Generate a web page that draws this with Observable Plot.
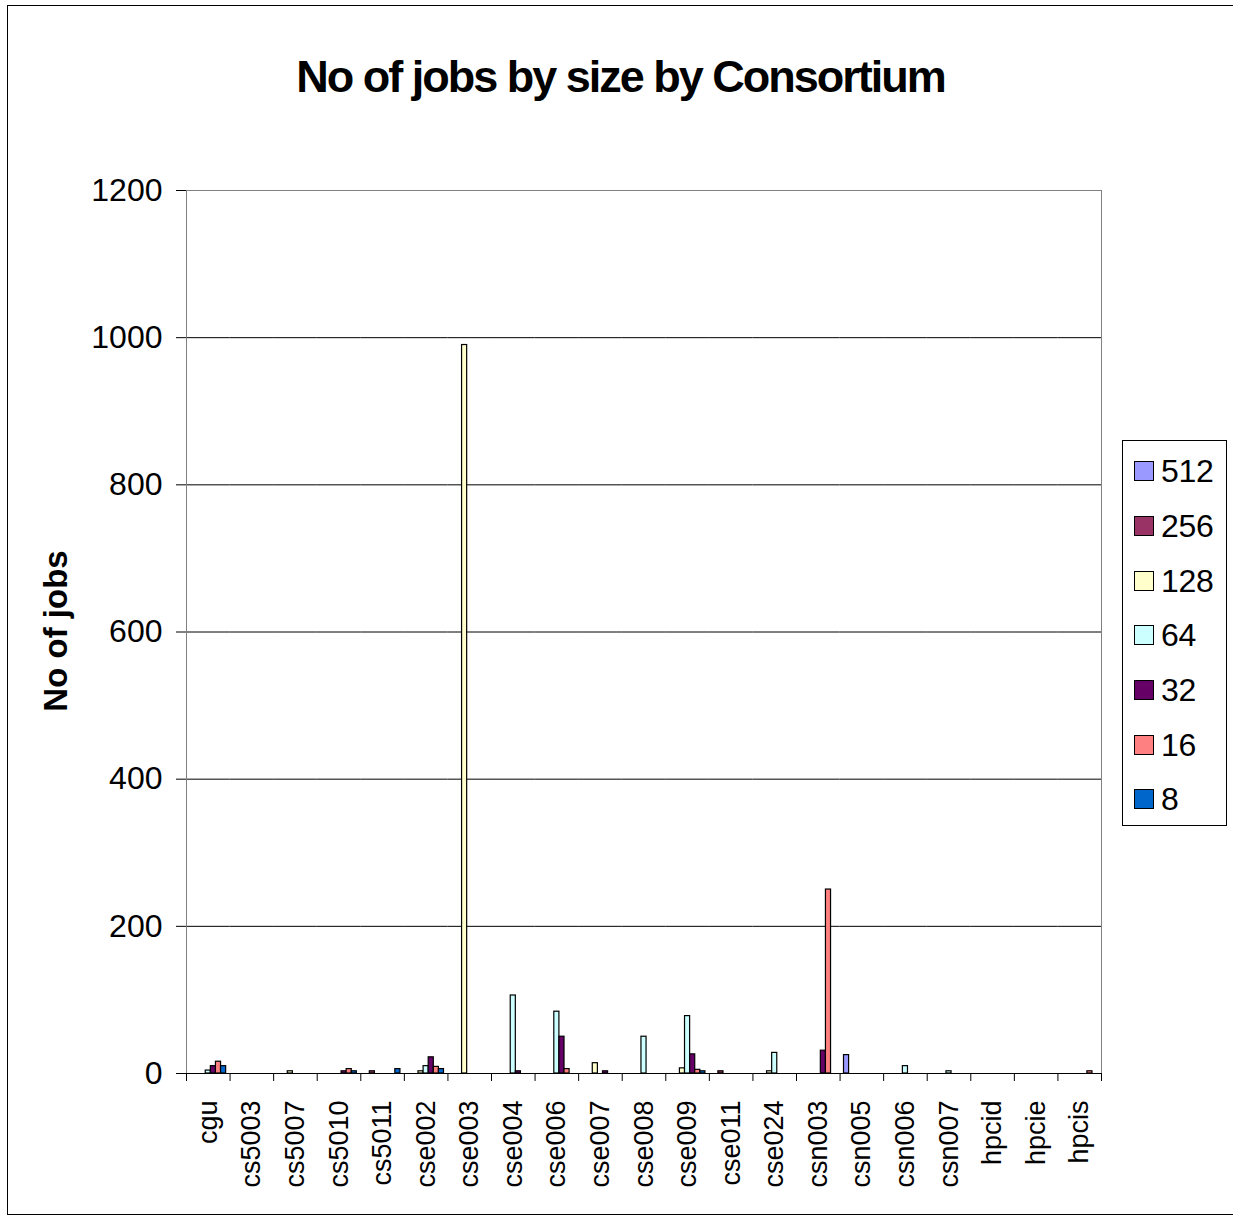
<!DOCTYPE html>
<html>
<head>
<meta charset="utf-8">
<script src="https://cdn.jsdelivr.net/npm/d3@7"></script>
<script src="https://cdn.jsdelivr.net/npm/@observablehq/plot@0.6"></script>
<style>
  html, body { margin: 0; padding: 0; background: #fff; }
  body { width: 1233px; height: 1217px; position: relative; overflow: hidden;
         font-family: "Liberation Sans", Arial, sans-serif; }
  #border { position: absolute; left: 7px; top: 5px; width: 1230px; height: 1210px;
            border: 1px solid #000; box-sizing: border-box; }
  #title { position: absolute; left: 0; width: 1241px; top: 54px; text-align: center;
           font-size: 45px; line-height: 45px; font-weight: bold; letter-spacing: -2px; color: #000; }
  #ylabel { position: absolute; left: 55px; top: 631px; transform: translate(-50%, -50%) rotate(-90deg);
            font-size: 33px; line-height: 33px; font-weight: bold; white-space: nowrap; color: #000; }
  #chart { position: absolute; left: 0; top: 150px; }
  #legend { position: absolute; left: 1122px; top: 440px; width: 105px; height: 386px;
            border: 1px solid #000; box-sizing: border-box; background: #fff; }
  .lg-row { position: absolute; left: 11px; height: 30px; display: flex; align-items: center; }
  .lg-sw { width: 20px; height: 20px; border: 1px solid #000; box-sizing: border-box; margin-right: 7px; }
  .lg-tx { font-size: 32px; line-height: 30px; color: #000; letter-spacing: -0.3px; }
</style>
</head>
<body>
<div id="border"></div>
<div id="title">No of jobs by size by Consortium</div>
<div id="ylabel">No of jobs</div>
<div id="chart"></div>
<div id="legend"></div>
<script>
// ---- data ----
const categories = ["cgu","cs5003","cs5007","cs5010","cs5011","cse002","cse003","cse004","cse006","cse007","cse008","cse009","cse011","cse024","csn003","csn005","csn006","csn007","hpcid","hpcie","hpcis"];
const sizes = ["512","256","128","64","32","16","8"];
const colors = ["#9999FF","#993366","#FFFFCC","#CCFFFF","#660066","#FF8080","#0066CC"];
//                 cgu cs5003 cs5007 cs5010 cs5011 cse002 cse003 cse004 cse006 cse007 cse008 cse009 cse011 cse024 csn003 csn005 csn006 csn007 hpcid hpcie hpcis
const s512 =      [0,  0,     0,     0,     0,     0,     0,     0,     0,     0,     0,     0,     0,     0,     0,     25,    0,     0,     0,    0,    0];
const s256 =      [0,  0,     0,     0,     3,     0,     0,     0,     0,     0,     0,     0,     3,     0,     0,     0,     0,     0,     0,    0,    0];
const s128 =      [0,  0,     3,     0,     0,     3,     990,   0,     0,     14,    0,     7,     0,     3,     0,     0,     0,     0,     0,    0,    0];
const s64 =       [4,  0,     0,     0,     0,     10,    0,     106,   84,    0,     50,    78,    0,     28,    0,     0,     10,    3,     0,    0,    0];
const s32 =       [10, 0,     0,     3,     0,     22,    0,     3,     50,    3,     0,     26,    0,     0,     31,    0,     0,     0,     0,    0,    0];
const s16 =       [16, 0,     0,     6,     0,     9,     0,     0,     6,     0,     0,     5,     0,     0,     250,   0,     0,     0,     0,    0,    3];
const s8 =        [10, 0,     0,     3,     6,     6,     0,     0,     0,     0,     0,     3,     0,     0,     0,     0,     0,     0,     0,    0,    0];
const seriesValues = [s512, s256, s128, s64, s32, s16, s8];
const yTicks = [0, 200, 400, 600, 800, 1000, 1200];

// ---- build tables ----
const rows = [];
sizes.forEach((s, si) => {
  seriesValues[si].forEach((v, ci) => {
    if (v > 0) rows.push({cat: categories[ci], size: s, value: v});
  });
});
// gridlines repeated in every category facet (so empty facets get them too)
const gridRows = [];
categories.forEach(c => yTicks.forEach(t => gridRows.push({cat: c, y: t})));

const W = 1110, H = 1050, mL = 186, mR = 9, mT = 40, mB = 127;
const step = (W - mL - mR) / categories.length;

const chart = Plot.plot({
  width: W, height: H,
  marginLeft: mL, marginRight: mR, marginTop: mT, marginBottom: mB,
  style: {fontFamily: "'Liberation Sans', Arial, sans-serif", color: "#000", background: "transparent"},
  fx: {domain: categories, padding: 0, round: false, label: null},
  x: {domain: sizes, paddingInner: 0, paddingOuter: 0.77, round: false, axis: null},
  y: {domain: [0, 1200], label: null},
  color: {domain: sizes, range: colors},
  marks: [
    Plot.ruleY(gridRows.filter(d => d.y > 0 && d.y < 1200), {fx: "cat", y: "y", stroke: "#000", strokeWidth: 1}),
    Plot.ruleY(gridRows.filter(d => d.y === 1200), {fx: "cat", y: "y", stroke: "#808080", strokeWidth: 1}),
    Plot.frame({facet: "super", stroke: "#808080", strokeWidth: 1}),
    Plot.barY(rows, {fx: "cat", x: "size", y: "value", fill: "size", stroke: "#000", strokeWidth: 1.2}),
    Plot.ruleY(gridRows.filter(d => d.y === 0), {fx: "cat", y: "y", stroke: "#000", strokeWidth: 1.2}),
    Plot.axisY({ticks: yTicks, tickFormat: d => String(d), tickSize: 10, tickPadding: 14, fontSize: 32,
                line: true, label: null, stroke: "#000", facetAnchor: "left"}),
    Plot.axisFx({anchor: "bottom", tickSize: 0, tickPadding: 27, tickRotate: -90, fontSize: 27, label: null}),
    Plot.axisFx({anchor: "bottom", text: null, tickSize: 8, dx: -step / 2, label: null}),
    Plot.axisFx({anchor: "bottom", ticks: [categories[categories.length - 1]], text: null, tickSize: 8, dx: step / 2, label: null})
  ]
});
document.getElementById("chart").appendChild(chart);

// ---- legend ----
const legend = document.getElementById("legend");
const rowTops = [15, 70, 125, 179, 234, 289, 343];
sizes.forEach((s, i) => {
  const r = document.createElement("div");
  r.className = "lg-row";
  r.style.top = rowTops[i] + "px";
  const sw = document.createElement("div");
  sw.className = "lg-sw";
  sw.style.background = colors[i];
  const tx = document.createElement("div");
  tx.className = "lg-tx";
  tx.textContent = s;
  r.appendChild(sw); r.appendChild(tx);
  legend.appendChild(r);
});
</script>
</body>
</html>
